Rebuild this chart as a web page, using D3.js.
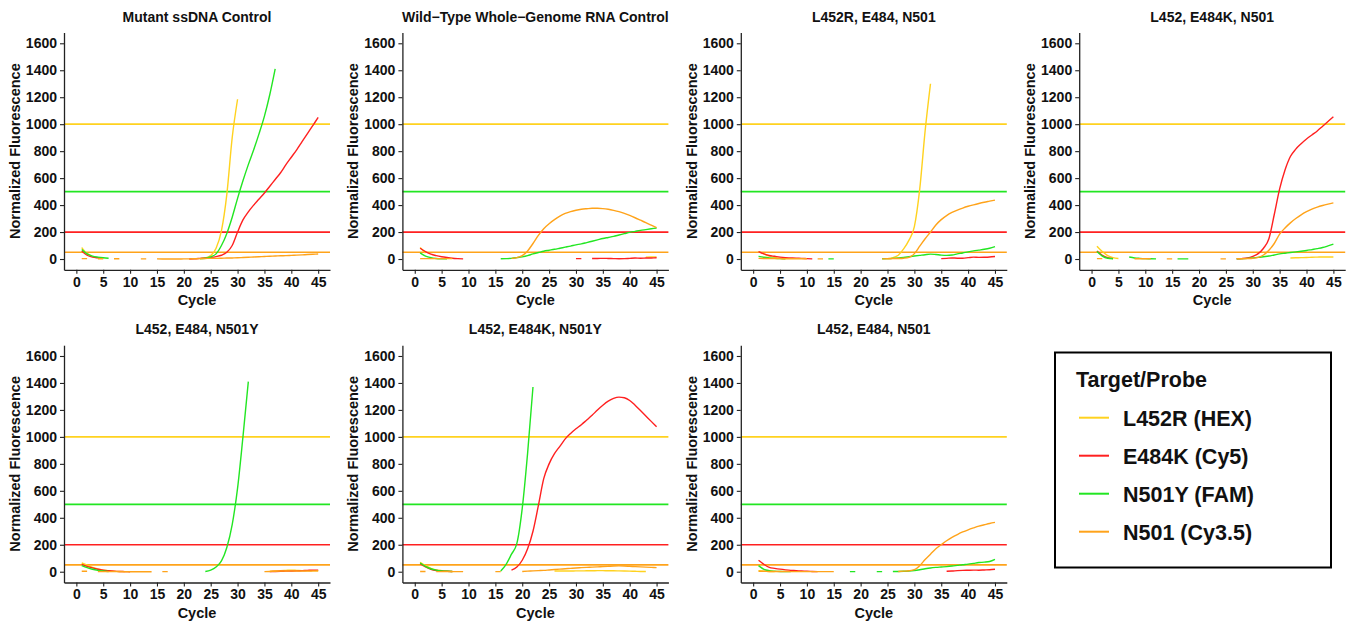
<!DOCTYPE html>
<html>
<head>
<meta charset="utf-8">
<script src="https://cdn.jsdelivr.net/npm/d3@7"></script>
<style>
body { margin: 0; background: #fff; }
svg text { font-family: "Liberation Sans", Arial, Helvetica, sans-serif; font-weight: bold; fill: #111; }
</style>
</head>
<body>
<svg id="board" width="1357" height="624"></svg>
<script>
var n = null;

var probes = ["L452R (HEX)", "E484K (Cy5)", "N501Y (FAM)", "N501 (Cy3.5)"];
var probeColors = ["#FFD21F", "#FF2020", "#22E622", "#FFA31A"];
var thresholds = [1000, 200, 500, 50];

var panelTitles = [
  "Mutant ssDNA Control",
  "Wild\u2212Type Whole\u2212Genome RNA Control",
  "L452R, E484, N501",
  "L452, E484K, N501",
  "L452, E484, N501Y",
  "L452, E484K, N501Y",
  "L452, E484, N501"
];
var xTicks = [0, 5, 10, 15, 20, 25, 30, 35, 40, 45];
var yTicks = [0, 200, 400, 600, 800, 1000, 1200, 1400, 1600];

// one value per cycle 1..45, null where the curve is not shown
var mutantHex = [85,40,18,n,n,n,n,n,n,n,n,n,n,n,n,
  n,n,n,n,n,n,n,2,8,25,80,210,480,900,1185,
  n,n,n,n,n,n,n,n,n,n,n,n,n,n,n];
var mutantCy5 = [60,28,14,9,6,n,n,n,n,n,n,n,n,n,n,
  n,n,n,n,n,0,2,5,8,12,18,28,50,100,200,
  290,350,400,445,490,540,590,640,700,755,810,870,930,990,1050];
var mutantFam = [70,38,22,14,9,6,n,n,n,n,n,n,n,n,n,
  n,n,n,n,n,n,n,3,6,15,38,100,190,310,450,
  580,700,810,930,1060,1220,1410,n,n,n,n,n,n,n,n];
var mutantCy35 = [3,3,n,2,2,n,2,2,n,n,n,1,1,n,1,
  0,0,0,0,1,1,2,3,4,5,5,6,7,8,9,
  11,13,15,17,19,21,22,24,25,27,29,31,33,35,37];

var wildHex = [85,45,n,n,n,n,n,n,n,n,n,n,n,n,n,
  n,n,n,n,n,n,n,n,n,n,n,n,n,n,n,
  n,n,n,n,n,n,n,n,n,n,n,n,14,15,16];
var wildCy5 = [80,55,36,25,17,11,6,3,1,n,n,n,n,n,n,
  n,n,n,n,n,n,n,n,n,n,n,n,n,n,3,
  3,n,4,4,5,4,3,2,3,5,7,6,7,8,9];
var wildFam = [45,22,10,4,2,1,n,n,n,n,n,n,n,n,n,
  2,3,5,10,16,25,38,48,58,65,72,80,88,96,105,
  112,122,132,142,152,160,168,178,188,198,205,212,218,224,230];
var wildCy35 = [3,3,3,3,3,3,3,n,n,n,n,n,n,n,n,
  n,n,5,10,25,60,115,175,225,262,292,318,338,352,362,
  369,373,376,376,374,369,361,351,338,323,306,288,270,251,232];

var l452rHex = [55,38,22,12,6,3,n,n,n,n,n,n,n,n,n,
  n,n,n,n,n,n,n,n,n,3,10,28,75,140,240,
  520,950,1300,n,n,n,n,n,n,n,n,n,n,n,n];
var l452rCy5 = [55,38,26,20,14,10,8,6,5,3,1,n,n,n,n,
  n,n,n,n,n,n,n,n,n,n,n,n,n,n,n,
  n,n,n,n,3,5,8,6,6,10,14,12,13,15,19];
var l452rFam = [20,13,8,5,3,2,n,n,n,n,n,n,n,1,1,
  n,n,n,n,n,n,n,n,2,3,5,8,12,17,22,
  27,32,36,33,29,27,30,38,45,53,60,66,72,80,92];
var l452rCy35 = [5,4,3,3,3,2,2,2,2,2,n,1,1,n,n,
  n,n,n,n,n,n,n,n,1,2,3,4,6,12,40,
  95,150,200,252,292,322,345,363,378,391,402,412,421,429,437];

var e484kHex = [95,55,25,10,4,n,n,n,n,n,n,n,n,n,n,
  n,n,n,n,n,n,n,n,n,n,n,n,n,n,n,
  n,n,n,n,n,n,8,9,10,11,13,14,15,15,15];
var e484kCy5 = [60,28,10,3,n,n,n,n,n,n,n,n,n,n,n,
  n,n,n,n,n,n,n,n,n,n,n,1,3,8,20,
  40,80,150,330,520,660,760,815,855,890,920,950,985,1020,1055];
var e484kFam = [55,22,6,2,n,n,15,8,5,3,2,1,n,n,n,
  1,1,1,n,n,n,n,n,n,n,n,2,3,5,8,
  12,17,22,30,38,43,48,53,58,63,70,77,85,97,110];
var e484kCy35 = [3,3,n,n,n,n,n,2,2,2,2,n,n,1,1,
  n,n,n,n,n,n,n,n,1,1,n,2,2,3,5,
  12,30,65,115,185,230,268,300,328,351,370,385,397,407,416];

var n501yHex = [65,48,32,20,12,7,4,2,1,n,n,n,n,n,n,
  n,n,n,n,n,n,n,n,n,n,n,n,n,n,n,
  n,n,n,n,n,3,5,8,10,12,10,8,8,7,6];
var n501yCy5 = [55,40,28,18,11,7,4,2,1,0,n,n,n,n,n,
  n,n,n,n,n,n,n,n,n,n,n,n,n,n,n,
  n,n,n,n,n,1,2,3,4,5,6,8,10,12,12];
var n501yFam = [45,30,18,10,5,2,n,n,n,n,n,n,n,n,n,
  n,n,n,n,n,n,n,n,2,12,35,80,180,350,620,
  1000,1410,n,n,n,n,n,n,n,n,n,n,n,n,n];
var n501yCy35 = [3,3,n,2,1,1,1,1,0,0,0,0,0,0,n,
  1,1,n,n,n,n,n,n,n,n,n,n,n,n,n,
  n,n,n,n,1,2,3,4,5,6,5,5,5,6,7];

var dualHex = [70,45,25,14,8,4,2,n,n,n,n,n,n,n,n,
  n,n,n,n,n,n,n,n,n,n,5,5,5,5,6,
  6,7,7,8,8,7,7,6,5,4,3,2,2,n,n];
var dualCy5 = [60,35,18,9,5,3,2,n,n,n,n,n,n,n,n,
  n,n,12,35,85,170,300,490,690,800,875,930,985,1025,1060,
  1090,1125,1160,1200,1235,1265,1285,1295,1290,1270,1235,1195,1155,1115,1075];
var dualFam = [65,40,22,12,6,3,1,n,n,n,n,n,n,n,n,
  5,55,130,210,470,880,1370,n,n,n,n,n,n,n,n,
  n,n,n,n,n,n,n,n,n,n,n,n,n,n,n];
var dualCy35 = [2,2,n,1,1,1,1,1,1,n,n,n,n,n,1,
  1,n,n,n,2,4,6,8,10,13,16,19,22,25,28,
  30,32,34,36,38,40,42,43,42,40,38,36,34,32,30];

var wtHex = [8,4,2,1,n,n,n,n,n,n,n,n,n,n,n,
  n,n,n,n,n,n,n,n,n,n,n,n,n,n,n,
  n,n,n,n,n,n,n,n,n,n,n,n,n,n,n];
var wtCy5 = [85,55,32,25,19,14,10,8,5,3,2,1,n,n,n,
  n,n,n,n,n,n,n,n,n,n,n,n,n,n,n,
  n,n,n,n,n,3,5,8,10,11,12,11,13,15,18];
var wtFam = [45,18,8,4,2,1,1,n,n,n,n,n,n,n,n,
  n,n,1,1,n,n,n,1,1,n,2,2,3,5,9,
  15,22,28,32,35,38,42,47,52,56,62,68,71,76,92];
var wtCy35 = [3,3,2,2,2,2,1,1,1,1,1,1,1,1,1,
  n,n,n,n,n,n,n,n,n,n,n,2,4,7,15,
  45,90,130,170,200,230,255,276,295,311,325,338,348,358,366];

var panelSeries = [
  [mutantHex, mutantCy5, mutantFam, mutantCy35],
  [wildHex, wildCy5, wildFam, wildCy35],
  [l452rHex, l452rCy5, l452rFam, l452rCy35],
  [e484kHex, e484kCy5, e484kFam, e484kCy35],
  [n501yHex, n501yCy5, n501yFam, n501yCy35],
  [dualHex, dualCy5, dualFam, dualCy35],
  [wtHex, wtCy5, wtFam, wtCy35]
];

var svg = d3.select("#board");
var panelW = 266, panelH = 237.3;

panelTitles.forEach(function(title, i) {
  var col = i % 4;
  var row = Math.floor(i / 4);
  var left = 64 + col * 338.4;
  var top = row == 0 ? 32.5 : 345.2;
  var bottom = top + panelH;

  var x = d3.scaleLinear().domain([-2.3, 47.2]).range([left, left + panelW]);
  var y = d3.scaleLinear().domain([-80, 1680]).range([bottom, top]);

  var g = svg.append("g").attr("class", "panel");

  // threshold lines, one per probe
  g.selectAll("line.thr")
    .data(thresholds)
    .enter()
    .append("line")
    .attr("class", "thr")
    .attr("x1", left)
    .attr("x2", left + panelW)
    .attr("y1", function(d) { return y(d); })
    .attr("y2", function(d) { return y(d); })
    .style("stroke", function(d, j) { return probeColors[j]; })
    .style("stroke-width", 1.7);

  var line = d3.line()
    .defined(function(d) { return d[1] != null; })
    .x(function(d) { return x(d[0]); })
    .y(function(d) { return y(d[1]); })
    .curve(d3.curveMonotoneX);

  panelSeries[i].forEach(function(vals, j) {
    var pts = vals.map(function(v, k) { return [k + 1, v]; });
    g.append("path")
      .attr("d", line(pts))
      .style("fill", "none")
      .style("stroke", probeColors[j])
      .style("stroke-width", 1.4);
  });

  var xAxis = g.append("g")
    .attr("transform", "translate(0," + bottom + ")")
    .call(d3.axisBottom(x).tickValues(xTicks).tickFormat(d3.format("d"))
      .tickSize(4).tickSizeOuter(0).tickPadding(3));
  var yAxis = g.append("g")
    .attr("transform", "translate(" + left + ",0)")
    .call(d3.axisLeft(y).tickValues(yTicks).tickFormat(d3.format("d"))
      .tickSize(4).tickSizeOuter(0).tickPadding(3));

  [xAxis, yAxis].forEach(function(a) {
    a.attr("color", "#222");
    a.select(".domain").style("stroke-width", 1.3);
    a.selectAll(".tick line").style("stroke-width", 1.1);
    a.selectAll("text").style("font-size", "14px").style("font-family", null);
  });

  g.append("text")
    .attr("x", left + panelW / 2)
    .attr("y", top - 11)
    .attr("text-anchor", "middle")
    .style("font-size", "14px")
    .text(title);

  g.append("text")
    .attr("x", left + panelW / 2)
    .attr("y", bottom + 35)
    .attr("text-anchor", "middle")
    .style("font-size", "14.5px")
    .text("Cycle");

  g.append("text")
    .attr("transform", "translate(" + (left - 44) + "," + (top + panelH / 2) + ") rotate(-90)")
    .attr("text-anchor", "middle")
    .style("font-size", "14.5px")
    .text("Normalized Fluorescence");
});

// legend
var legend = svg.append("g").attr("class", "legend");
legend.append("rect")
  .attr("x", 1055)
  .attr("y", 352.5)
  .attr("width", 276)
  .attr("height", 215)
  .style("fill", "#fff")
  .style("stroke", "#000")
  .style("stroke-width", 2);
legend.append("text")
  .attr("x", 1076)
  .attr("y", 387)
  .style("font-size", "21.5px")
  .text("Target/Probe");

var items = legend.selectAll("g.item")
  .data(probes)
  .enter()
  .append("g")
  .attr("class", "item")
  .attr("transform", function(d, k) { return "translate(0," + (417.7 + k * 38) + ")"; });
items.append("line")
  .attr("x1", 1079)
  .attr("x2", 1109)
  .style("stroke", function(d, k) { return probeColors[k]; })
  .style("stroke-width", 2);
items.append("text")
  .attr("x", 1123)
  .attr("y", 8.5)
  .style("font-size", "21.5px")
  .text(function(d) { return d; });
</script>
</body>
</html>
